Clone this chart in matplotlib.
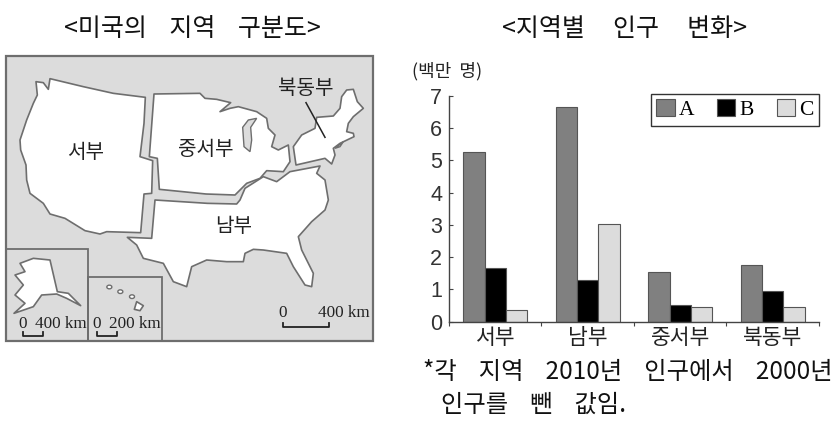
import matplotlib
matplotlib.use('Agg')
import matplotlib.pyplot as plt
from matplotlib.patches import Polygon, Rectangle, Ellipse

KR = ['Noto Sans CJK KR', 'DejaVu Sans']
plt.rcParams['font.family'] = KR

# ---- chart data
regions = ['서부', '남부', '중서부', '북동부']
series_names = ['A', 'B', 'C']
series_a = [5.25, 6.65, 1.55, 1.75]
series_b = [1.65, 1.30, 0.52, 0.95]
series_c = [0.35, 3.02, 0.45, 0.45]
y_ticks = [0, 1, 2, 3, 4, 5, 6, 7]
series_colors = ['#808080', '#000000', '#dcdcdc']

# ---- map outlines (approximate shapes)
west = [(108,125),(130,128),(145,148),(150,116),(250,140),(340,160),(436,172),(432,250),(420,350),(458,362),
        (455,460),(432,462),(422,578),(320,575),(300,582),(255,572),(195,535),(150,522),(130,490),(90,460),
        (80,420),(78,375),(62,330),(60,300),(80,240),(100,190),(112,165)]
midwest = [(462,162),(600,160),(615,175),(650,178),(692,188),(660,215),(690,205),(715,200),(770,215),(800,235),
           (805,265),(825,285),(815,320),(835,330),(865,315),(870,365),(850,395),(800,392),(780,415),(740,430),
           (705,465),(618,462),(478,448),(472,355),(448,350)]
south = [(465,480),(622,490),(710,492),(720,480),(735,445),(790,410),(830,425),(870,395),(960,378),(950,400),
         (975,420),(985,480),(975,510),(935,545),(895,590),(905,630),(940,700),(935,740),(915,735),(880,680),
         (860,640),(790,630),(760,628),(735,640),(730,665),(680,665),(620,660),(575,680),(560,740),(520,725),
         (490,670),(430,655),(410,615),(382,592),(455,595)]
northeast = [(880,320),(905,285),(945,265),(950,232),(1000,228),(1020,205),(1025,170),(1040,150),(1060,148),
             (1072,185),(1090,205),(1060,230),(1045,250),(1040,275),(1060,280),(1062,290),(1020,310),(1000,325),
             (1005,345),(995,372),(975,355),(888,375)]
alaska = [(60,670),(100,655),(150,660),(172,755),(205,760),(242,797),(200,775),(170,762),(125,765),(100,800),
          (42,820),(75,790),(45,765),(70,735),(45,705),(75,695)]
hawaii_main = [(410,785),(430,797),(420,812),(403,808)]
hawaii_small = [(328,741),(361,755),(396,770)]
lake_michigan = [(728,262),(745,240),(770,235),(752,262),(755,300),(750,335),(732,320)]
long_island = [(1005,325),(1030,305),(1020,320)]

fig = plt.figure(figsize=(8.37, 4.30), dpi=100)
W, H = 837, 430

def px_axes(x0, y0, x1, y1):
    return fig.add_axes([x0/W, 1-y1/H, (x1-x0)/W, (y1-y0)/H])

# ---- map panel, in zoomed-reference units
m = px_axes(0, 40, 390, 350)
m.set_xlim(0, 1170); m.set_ylim(930, 0); m.axis('off')
edge = '#6e6e6e'
m.add_patch(Rectangle((18,48), 1102, 855, fc='#dcdcdc', ec=edge, lw=1.6))
for shape in (west, midwest, south, northeast, alaska, hawaii_main):
    m.add_patch(Polygon(shape, closed=True, fc='white', ec=edge, lw=1.2, joinstyle='round'))
m.add_patch(Polygon(lake_michigan, closed=True, fc='#dcdcdc', ec=edge, lw=1.0))
m.add_patch(Polygon(long_island, closed=True, fc='#dcdcdc', ec=edge, lw=1.0))
for cx, cy in hawaii_small:
    m.add_patch(Ellipse((cx, cy), 15, 11, fc='white', ec=edge, lw=1.0))
m.add_patch(Rectangle((18,627), 247, 276, fc='none', ec=edge, lw=1.3))
m.add_patch(Rectangle((265,710), 220, 193, fc='none', ec=edge, lw=1.3))
m.plot([918,975], [188,292], color='#222222', lw=1.1)
for x0, x1, y, tip in [(68,128,888,875),(290,350,888,875),(848,988,860,848)]:
    m.plot([x0,x0,x1,x1], [tip,y,y,tip], color='#222222', lw=1.3)
for x, y, s in [(258,338,'서부'),(616,328,'중서부'),(702,561,'남부'),(916,146,'북동부')]:
    m.text(x, y, s, ha='center', va='center', fontsize=14.5, color='#222222')
for x, y, s in [(67,851,'0'),(182,851,'400 km'),(290,851,'0'),(405,851,'200 km'),(848,820,'0'),(1030,820,'400 km')]:
    m.text(x, y, s, ha='center', va='center', fontsize=12.3, family='Liberation Serif', color='#222222')

# ---- bar chart
ax = px_axes(449, 96, 819, 321.7)
x = list(range(len(regions)))
w = 0.23
centers = [i + 0.5 for i in x]
for offset, vals, col, name in zip((-w, 0, w), (series_a, series_b, series_c), series_colors, series_names):
    ax.bar([c + offset for c in centers], vals, width=w, color=col, edgecolor='#555555', linewidth=0.8, label=name)
ax.set_xlim(0, 4); ax.set_ylim(0, 7)
ax.set_yticks(y_ticks)
ax.set_xticks([0, 1, 2, 3, 4], labels=[''] * 5)
ax.set_xticks(centers, labels=regions, minor=True)
ax.tick_params(axis='x', which='minor', length=0, labelsize=15.5, pad=4, labelcolor='#222222')
ax.tick_params(axis='x', which='major', direction='out', length=3, color='#444444')
ax.tick_params(axis='y', direction='in', length=3, labelsize=15.5, pad=5, color='#444444',
               labelcolor='#333333', labelfontfamily='Liberation Sans')
for s in ('top', 'right'):
    ax.spines[s].set_visible(False)
for s in ('left', 'bottom'):
    ax.spines[s].set_color('#444444'); ax.spines[s].set_linewidth(1.0)
leg = ax.legend(ncol=3, loc='upper right', bbox_to_anchor=(1.0, 1.01), frameon=True, fancybox=False,
                edgecolor='#333333', framealpha=1, borderaxespad=0, handlelength=0.85, handleheight=0.85,
                handletextpad=0.2, columnspacing=1.05, borderpad=0.25, labelspacing=0,
                prop={'family': 'Liberation Serif', 'size': 15.5})

# ---- text outside the panels
def t(px, py, s, **kw):
    fig.text(px/W, 1-py/H, s, **kw)
t(192, 29, '<미국의    지역    구분도>', ha='center', va='center', fontsize=18, color='#111111')
t(625, 29, '<지역별     인구     변화>', ha='center', va='center', fontsize=18, color='#111111')
t(447, 71, '(백만  명)', ha='center', va='center', fontsize=13, color='#222222')
t(423, 372, '*각    지역    2010년    인구에서    2000년', ha='left', va='center', fontsize=17.5, color='#111111')
t(441, 405, '인구를    뺀    값임.', ha='left', va='center', fontsize=17.5, color='#111111')

fig.savefig('out.png', dpi=100)
